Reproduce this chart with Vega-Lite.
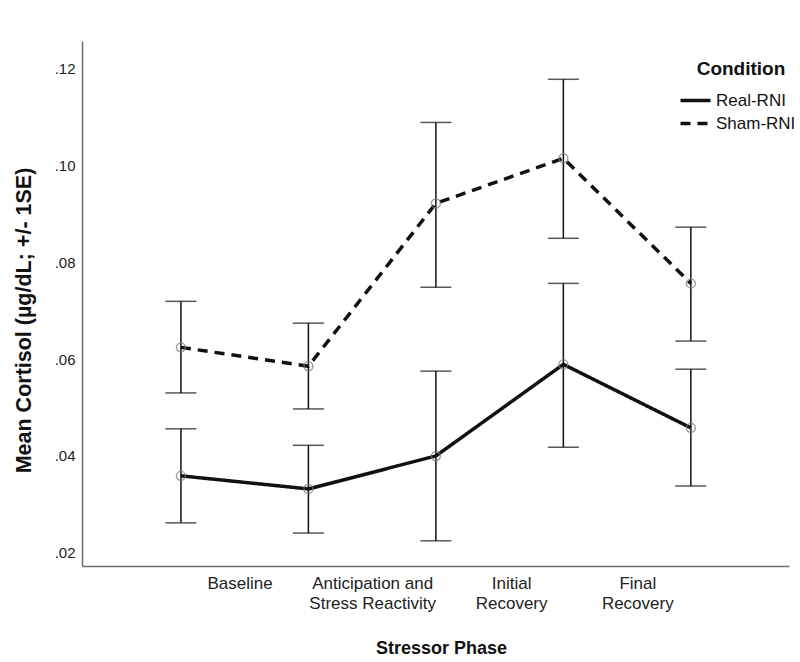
{
  "$schema": "https://vega.github.io/schema/vega-lite/v6.json",
  "autosize": {"type": "none"},
  "padding": {"left": 82, "top": 41, "right": 11, "bottom": 96},
  "width": 707,
  "height": 525,
  "background": "white",
  "config": {
    "font": "Liberation Sans",
    "view": {"stroke": null},
    "axis": {"grid": false, "ticks": false, "domainColor": "#6e6e6e", "domainWidth": 1.5, "labelColor": "#222", "titleColor": "#111", "labelFont": "Liberation Sans", "titleFont": "Liberation Sans"}
  },
  "data": {
    "values": [
      {"phase": 1, "condition": "Real-RNI", "mean": 0.0359, "lo": 0.0262, "hi": 0.0456},
      {"phase": 2, "condition": "Real-RNI", "mean": 0.0332, "lo": 0.0241, "hi": 0.0422},
      {"phase": 3, "condition": "Real-RNI", "mean": 0.0400, "lo": 0.0225, "hi": 0.0575},
      {"phase": 4, "condition": "Real-RNI", "mean": 0.0589, "lo": 0.0418, "hi": 0.0756},
      {"phase": 5, "condition": "Real-RNI", "mean": 0.0458, "lo": 0.0338, "hi": 0.0579},
      {"phase": 1, "condition": "Sham-RNI", "mean": 0.0624, "lo": 0.0530, "hi": 0.0719},
      {"phase": 2, "condition": "Sham-RNI", "mean": 0.0585, "lo": 0.0497, "hi": 0.0674},
      {"phase": 3, "condition": "Sham-RNI", "mean": 0.0921, "lo": 0.0748, "hi": 0.1088},
      {"phase": 4, "condition": "Sham-RNI", "mean": 0.1014, "lo": 0.0849, "hi": 0.1177},
      {"phase": 5, "condition": "Sham-RNI", "mean": 0.0756, "lo": 0.0637, "hi": 0.0872}
    ]
  },
  "encoding": {
    "x": {
      "field": "phase",
      "type": "quantitative",
      "scale": {"domain": [0.224, 5.77], "nice": false, "zero": false},
      "axis": {
        "title": "Stressor Phase",
        "titleFontSize": 18,
        "titleFontWeight": "bold",
        "titlePadding": 28,
        "titleX": 359,
        "values": [1.46, 2.5, 3.59, 4.58],
        "labelExpr": "datum.value < 2 ? 'Baseline' : datum.value < 3 ? ['Anticipation and', 'Stress Reactivity'] : datum.value < 4 ? ['Initial', 'Recovery'] : ['Final', 'Recovery']",
        "labelFontSize": 17,
        "labelLineHeight": 20,
        "labelPadding": 9,
        "labelBaseline": "top",
        "labelAlign": "center",
        "labelOverlap": false,
        "labelFlush": false,
        "labelBound": false
      }
    }
  },
  "layer": [
    {
      "mark": {"type": "errorbar", "ticks": {"size": 31, "thickness": 1.5, "color": "#111"}, "rule": {"strokeWidth": 1.5, "color": "#111"}},
      "encoding": {
        "y": {
          "field": "lo",
          "type": "quantitative",
          "scale": {"domain": [0.0173, 0.1256], "nice": false, "zero": false},
          "axis": {
            "title": "Mean Cortisol (µg/dL; +/- 1SE)",
            "titleFontSize": 21.5,
            "titleFontWeight": "bold",
            "titlePadding": 19,
            "titleY": 279,
            "values": [0.02, 0.04, 0.06, 0.08, 0.1, 0.12],
            "labelExpr": "substring(format(datum.value, '.2f'), 1)",
            "labelFontSize": 15,
            "labelPadding": 7
          }
        },
        "y2": {"field": "hi"},
        "detail": {"field": "condition"}
      }
    },
    {
      "mark": {"type": "line", "color": "#111", "strokeWidth": 3.5},
      "encoding": {
        "y": {"field": "mean", "type": "quantitative"},
        "strokeDash": {
          "field": "condition",
          "type": "nominal",
          "scale": {"domain": ["Real-RNI", "Sham-RNI"], "range": [[1, 0], [10, 7]]},
          "legend": {
            "title": "Condition",
            "orient": "none",
            "legendX": 604,
            "legendY": 19,
            "titleFontSize": 19,
            "titleFontWeight": "bold",
            "titleColor": "#111",
            "titleAnchor": "middle",
            "titlePadding": 12,
            "labelFontSize": 17,
            "labelColor": "#111",
            "labelOffset": 11,
            "symbolType": "M-2,0H2",
            "symbolSize": 225,
            "symbolStrokeWidth": 3.5,
            "symbolStrokeColor": "#111",
            "symbolFillColor": "transparent",
            "rowPadding": 5
          }
        }
      }
    },
    {
      "mark": {"type": "point", "shape": "circle", "filled": false, "color": "#7a7a7a", "strokeWidth": 1.5, "size": 80},
      "encoding": {
        "y": {"field": "mean", "type": "quantitative"},
        "detail": {"field": "condition"}
      }
    }
  ]
}
